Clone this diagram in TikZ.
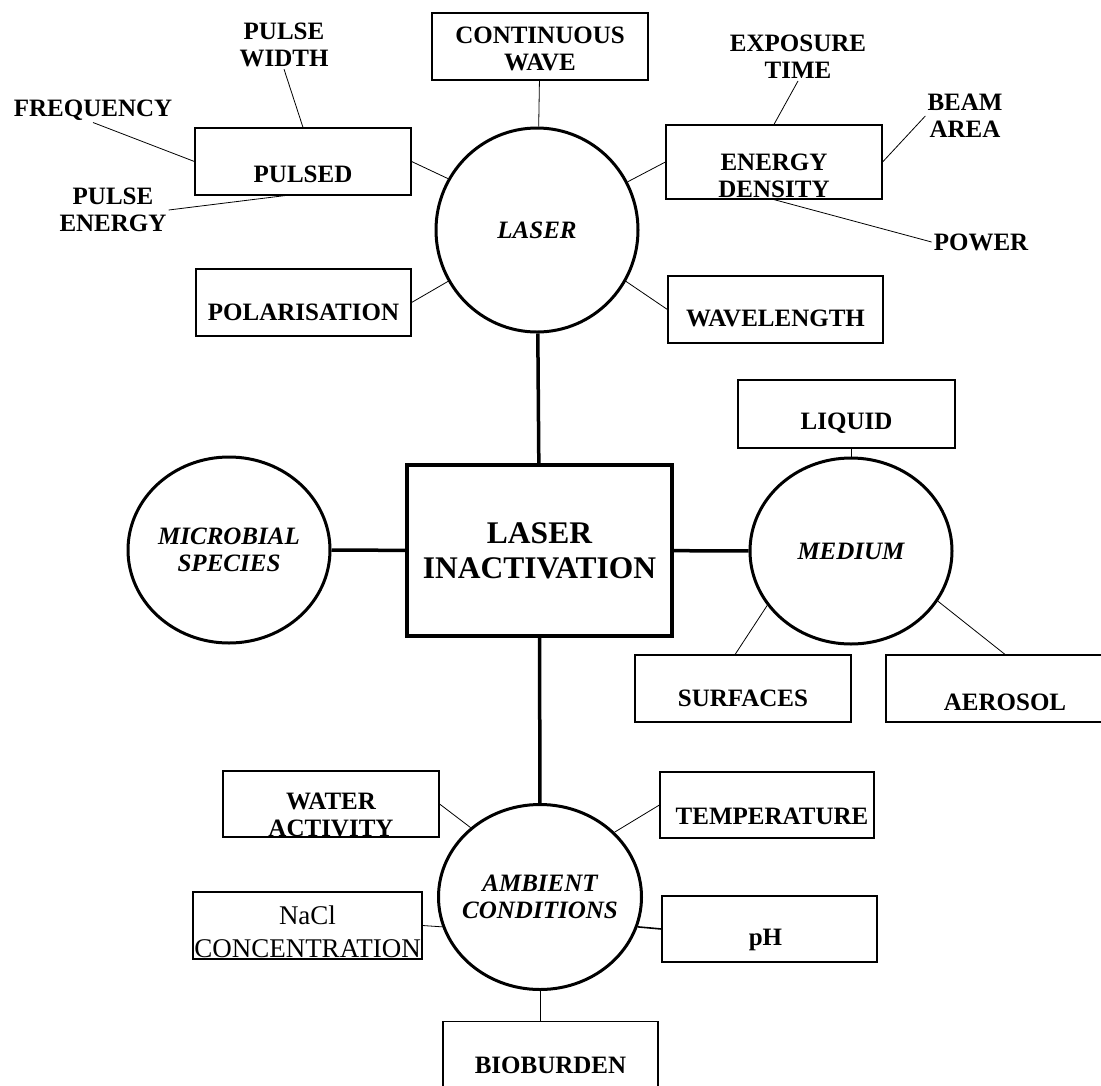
\documentclass[tikz,border=0pt]{standalone}
\usepackage{fontspec}
\setmainfont{Liberation Serif}
\usetikzlibrary{shapes.geometric}

\tikzset{
    factor/.style={draw, line width=1.2pt, inner sep=0pt, minimum width=216pt, minimum height=67pt},
    factortext/.style={font=\fontsize{25}{27}\selectfont\bfseries, align=center, inner sep=0pt},
    group/.style={draw, ellipse, line width=3pt, inner sep=0pt, minimum width=202pt, minimum height=186pt,
        font=\fontsize{25}{27}\selectfont\bfseries\itshape, align=center},
    param/.style={font=\fontsize{25}{27}\selectfont\bfseries, align=center, inner sep=2pt},
    link/.style={line width=0.8pt},
    mainlink/.style={line width=3.5pt}
}

\begin{document}
\begin{tikzpicture}[x=1pt, y=-1pt]
        \useasboundingbox (0,0) rectangle (1101,1085);

        % centre and the four groups
        \node[draw, line width=4pt, minimum width=265pt, minimum height=171pt,
            font=\fontsize{31.5}{35}\selectfont\bfseries, align=center] (inactivation) at (539.5,550.5) {LASER\\INACTIVATION};
        \node[group, minimum height=204pt] (laser) at (537,230) {LASER};
        \node[group, inner xsep=-8pt] (microbial) at (229,550) {MICROBIAL\\SPECIES};
        \node[group] (medium) at (851,551) {MEDIUM};
        \node[group, minimum width=203pt, minimum height=185pt, inner xsep=-14pt] (ambient) at (540,897) {AMBIENT\\CONDITIONS};

        % laser
        \node[factor, label={[factortext, yshift=-2pt]center:CONTINUOUS\\WAVE}] (cw) at (540,46.5) {};
        \node[factor, label={[factortext, yshift=-13pt]center:PULSED}] (pulsed) at (303,161.5) {};
        \node[factor, minimum width=215pt, label={[factortext, yshift=-10pt]center:POLARISATION}] (polarisation) at (303.5,302.5) {};
        \node[factor, minimum height=74pt, label={[factortext, yshift=-14pt]center:ENERGY\\DENSITY}] (energy) at (774,162) {};
        \node[factor, minimum width=215pt, label={[factortext, yshift=-9pt]center:WAVELENGTH}] (wavelength) at (775.5,309.5) {};

        \node[param] (frequency) at (93,110) {FREQUENCY};
        \node[param] (pwidth) at (284,45) {PULSE\\WIDTH};
        \node[param] (penergy) at (113,210) {PULSE\\ENERGY};
        \node[param] (exposure) at (798,57) {EXPOSURE\\TIME};
        \node[param] (beam) at (965,116) {BEAM\\AREA};
        \node[param] (power) at (981,242) {POWER};

        % medium
        \node[factor, minimum width=217pt, minimum height=68pt, label={[factortext, yshift=-9pt]center:LIQUID}] (liquid) at (846.5,414) {};
        \node[factor, label={[factortext, yshift=-10pt]center:SURFACES}] (surfaces) at (743,688.5) {};
        \node[factor, minimum width=238pt, label={[factortext, yshift=-14pt]center:AEROSOL}] (aerosol) at (1005,688.5) {};

        % ambient conditions
        \node[factor, minimum height=66pt, label={[factortext, yshift=-11pt]center:WATER\\ACTIVITY}] (wateract) at (331,804) {};
        \node[factor, minimum width=229pt, label={[factortext, font=\fontsize{27}{33}\selectfont, yshift=-6pt]center:NaCl\\CONCENTRATION}] (nacl) at (307.5,925.5) {};
        \node[factor, minimum width=214pt, minimum height=66pt, label={[factortext, xshift=5pt, yshift=-11pt]center:TEMPERATURE}] (temperature) at (767,805) {};
        \node[factor, minimum width=215pt, minimum height=66pt, label={[factortext, xshift=-4pt, yshift=-11pt]center:pH}] (ph) at (769.5,929) {};
        \node[factor, minimum width=215pt, label={[factortext, yshift=-10pt]center:BIOBURDEN}] (bioburden) at (550.5,1055) {};

        % connectors
        \draw[mainlink] (laser) -- (inactivation);
        \draw[mainlink] (microbial) -- (inactivation);
        \draw[mainlink] (inactivation) -- (medium);
        \draw[mainlink] (inactivation) -- (ambient);

        \draw[link] (cw) -- (laser);
        \draw[link] (pulsed.east) -- (laser.150);
        \draw[link] (polarisation.east) -- (laser.210);
        \draw[link] (laser.28) -- (energy.west);
        \draw[link] (laser.-30) -- (wavelength.west);
        \draw[link] (frequency.south) -- (pulsed.west);
        \draw[link] (pwidth.south) -- (pulsed.north);
        \draw[link] (penergy.east) -- (pulsed.242);
        \draw[link] (exposure.south) -- (energy.north);
        \draw[link] (energy.east) -- (beam.west);
        \draw[link] (energy.south) -- (power.west);

        \draw[link] (medium.north) -- (medium.north |- liquid.south);
        \draw[link] (medium.213) -- (surfaces.103);
        \draw[link] (medium.-30) -- (aerosol.north);

        \draw[link] (wateract.east) -- (ambient.135);
        \draw[link] (nacl.east) -- (ambient.197);
        \draw[link] (ambient.41) -- (temperature.west);
        \draw[link, line width=1.6pt] (ambient.-17) -- (ph.west);
        \draw[link] (ambient.south) -- (ambient.south |- bioburden.north);
    \end{tikzpicture}
\end{document}
